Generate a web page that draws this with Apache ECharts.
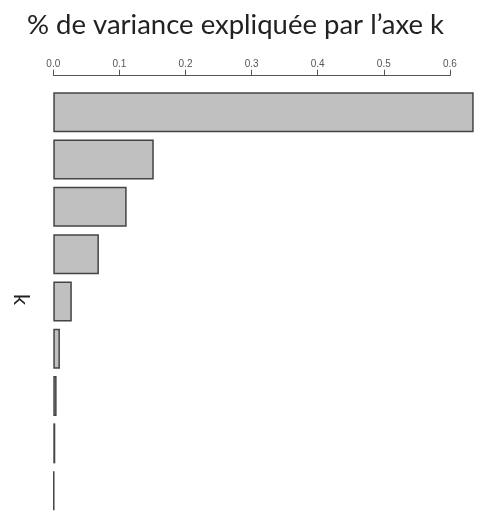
<!DOCTYPE html>
<html>
<head>
<meta charset="utf-8">
<script src="https://cdn.jsdelivr.net/npm/echarts@6/dist/echarts.min.js"></script>
<style>html,body{margin:0;padding:0;background:#fff}#c{width:484px;height:517px}</style>
</head>
<body>
<div id="c"></div>
<script>
const categories = ['1','2','3','4','5','6','7','8','9'];
const variance = [0.636, 0.152, 0.111, 0.069, 0.028, 0.010, 0.005, 0.003, 0.0015];
const tickValues = [0, 0.1, 0.2, 0.3, 0.4, 0.5, 0.6];
const titleText = '% de variance expliquée par l’axe k';
const yName = 'k';

const chart = echarts.init(document.getElementById('c'), null, {renderer: 'canvas'});
chart.setOption({
  animation: false,
  backgroundColor: '#ffffff',
  title: {
    text: titleText,
    left: 22,
    top: 6,
    textStyle: {fontFamily: 'Lato', fontWeight: 'normal', fontSize: 27.5, color: '#222'}
  },
  graphic: [{
    type: 'text',
    x: 10,
    y: 294,
    rotation: -Math.PI / 2,
    originX: 0, originY: 0,
    style: {text: yName, font: '22px Lato', fill: '#222', textAlign: 'left', textVerticalAlign: 'bottom'}
  }],
  grid: {left: 53.3, width: 396.6, top: 88.6, height: 425.7, containLabel: false},
  xAxis: {
    type: 'value',
    position: 'top',
    offset: 12.9,
    min: 0,
    max: 0.6,
    interval: 0.1,
    splitLine: {show: false},
    axisLine: {show: true, lineStyle: {color: '#555', width: 1}},
    axisTick: {show: true, inside: false, length: 6, lineStyle: {color: '#555'}},
    axisLabel: {
      margin: 6,
      fontFamily: 'Liberation Sans',
      fontSize: 10,
      color: '#555',
      formatter: v => v.toFixed(1)
    }
  },
  yAxis: {
    type: 'category',
    data: categories,
    inverse: true,
    axisLine: {show: false},
    axisTick: {show: false},
    axisLabel: {show: false}
  },
  series: [{
    type: 'bar',
    data: variance,
    barWidth: 40,
    clip: false,
    itemStyle: {color: '#c0c0c0', borderColor: '#444', borderWidth: 1.5}
  }]
});
</script>
</body>
</html>
